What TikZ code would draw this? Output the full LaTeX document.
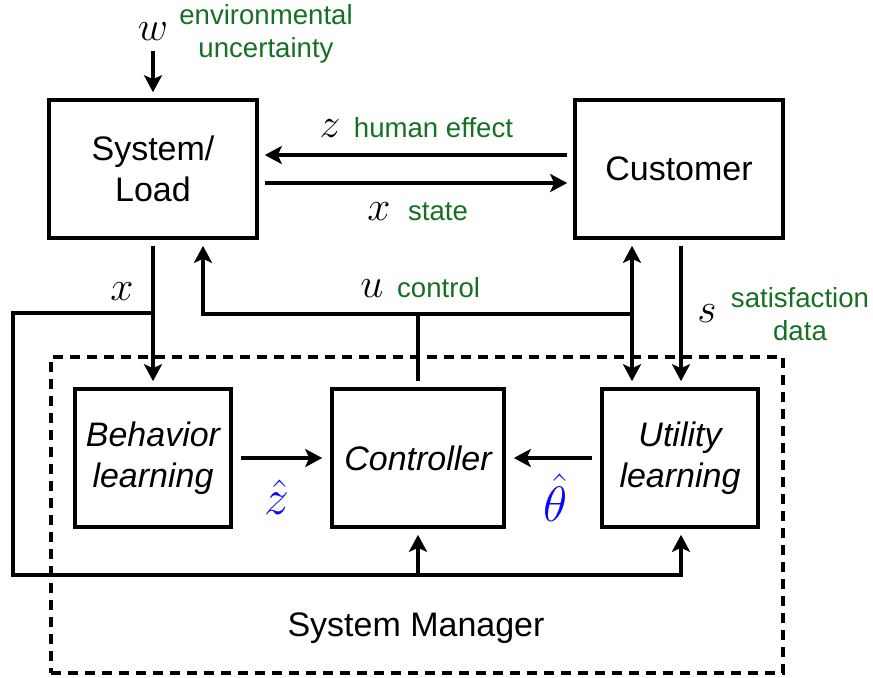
\documentclass[tikz,border=0pt]{standalone}
\usepackage{fontspec}
\setmainfont{Liberation Sans}
\usetikzlibrary{arrows.meta,positioning}
\definecolor{LabelGreen}{RGB}{22,112,36}
\definecolor{HatBlue}{RGB}{10,10,250}

\begin{document}
\begin{tikzpicture}[x=0.5pt, y=-0.5pt, line width=1.8pt,
      >={Stealth[length=8.5pt,width=9pt,inset=2pt]}, ->,
      every node/.append style={font=\fontsize{17}{20.5}\selectfont}]
    \tikzstyle{block} = [draw, rectangle, align=center, inner sep=2pt, minimum height=69pt]
    \tikzstyle{task} = [block, font=\fontsize{17}{20.5}\selectfont\itshape]
    \tikzstyle{gap} = [shorten >=3pt, shorten <=3pt]
    \tikzstyle{sym} = [inner sep=1pt, font=\fontsize{20}{24}\selectfont]
    \tikzstyle{hat} = [inner sep=1pt, text=HatBlue, font=\fontsize{25}{30}\selectfont]
    \tikzstyle{note} = [inner sep=1pt, text=LabelGreen, align=center, font=\fontsize{13.8}{16.5}\selectfont]
    \useasboundingbox (0,0) rectangle (873,677);

    % system manager frame
    \node[draw, -, dash pattern=on 5pt off 3.5pt, minimum width=366pt, minimum height=158pt] (mgr) at (417,515) {};
    \node (mgrname) at (416,628) {System Manager};

    % blocks
    \node[block, minimum width=104pt] (sys) at (153,169) {System/\\Load};
    \node[block, minimum width=104pt] (cust) at (679,169) {Customer};
    \node[task, minimum width=78pt] (beh) at (153,458) {Behavior\\learning};
    \node[task, minimum width=86pt] (ctrl) at (418,458) {Controller};
    \node[task, minimum width=78pt] (util) at (680,458) {Utility\\learning};

    % labels
    \node[sym] (w) at (153,32) {$w$};
    \node[note] (wtext) at (266,34) {environmental\\uncertainty};
    \node[sym, anchor=base] (z) at (330,137) {$z$};
    \node[note, base right=3pt of z] (ztext) {human effect};
    \node[sym, anchor=base] (xs) at (379,220) {$x$};
    \node[note, base right=5pt of xs] (xstext) {state};
    \node[sym, anchor=base] (xb) at (122,300) {$x$};
    \node[sym, anchor=base] (u) at (372,297) {$u$};
    \node[note, base right=3pt of u] (utext) {control};
    \node[sym, anchor=base] (s) at (707,322) {$s$};
    \node[note] (stext) at (800,314) {satisfaction\\data};
    \node[hat] (zhat) at (277,497) {$\hat{z}$};
    \node[hat] (thetahat) at (556,498) {$\hat{\theta}$};

    \coordinate (xtap) at (153,313);
    \coordinate (fbtop) at (13,313);
    \coordinate (fbbot) at (13,575);
    \coordinate (utap) at (632,314);

    % connectors
    \draw[gap] (w) -- (sys);
    \draw[gap] (cust.west |- 0,155) -- (sys.east |- 0,155);
    \draw[gap] (sys.east |- 0,183) -- (cust.west |- 0,183);
    \draw[gap] (sys) -- (beh);
    \draw[shorten >=3pt] (xtap) -- (fbtop) -- (fbbot) -| (util.south -| 681,0);
    \draw[shorten >=3pt] (ctrl.south |- fbbot) -- (ctrl.south);
    \draw[-, shorten <=3pt] (ctrl.north) -- (ctrl.north |- utap);
    \draw[shorten >=3pt] (utap) -| (sys.south -| 203,0);
    \draw[<->, gap] (cust.south -| 632,0) -- (util.north -| 632,0);
    \draw[gap] (cust.south -| 681,0) -- (util.north -| 681,0);
    \draw[shorten >=4pt, shorten <=4pt] (beh) -- (ctrl);
    \draw[shorten >=4pt, shorten <=4pt] (util) -- (ctrl);
\end{tikzpicture}
\end{document}
